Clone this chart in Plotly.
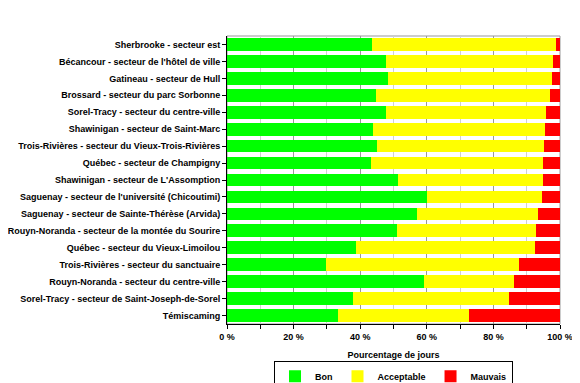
import plotly.graph_objects as go

stations = [
    "Sherbrooke - secteur est",
    "Bécancour - secteur de l'hôtel de ville",
    "Gatineau - secteur de Hull",
    "Brossard - secteur du parc Sorbonne",
    "Sorel-Tracy - secteur du centre-ville",
    "Shawinigan - secteur de Saint-Marc",
    "Trois-Rivières - secteur du Vieux-Trois-Rivières",
    "Québec - secteur de Champigny",
    "Shawinigan - secteur de L'Assomption",
    "Saguenay - secteur de l'université (Chicoutimi)",
    "Saguenay - secteur de Sainte-Thérèse (Arvida)",
    "Rouyn-Noranda - secteur de la montée du Sourire",
    "Québec - secteur du Vieux-Limoilou",
    "Trois-Rivières - secteur du sanctuaire",
    "Rouyn-Noranda - secteur du centre-ville",
    "Sorel-Tracy - secteur de Saint-Joseph-de-Sorel",
    "Témiscaming",
]
bon = [43.5, 47.6, 48.3, 44.7, 47.8, 43.8, 45.1, 43.3, 51.2, 60.2, 57.0, 50.9, 38.6, 29.6, 59.3, 37.9, 33.2]
acceptable = [55.4, 50.3, 49.3, 52.2, 48.1, 51.6, 50.2, 51.7, 43.8, 34.5, 36.4, 41.8, 54.0, 58.1, 26.8, 46.9, 39.6]
mauvais = [round(100 - b - a, 1) for b, a in zip(bon, acceptable)]
tick_vals = [0, 20, 40, 60, 80, 100]
tick_text = ["0 %", "20 %", "40 %", "60 %", "80 %", "100 %"]

series = [("Bon", bon, "#00FF00"), ("Acceptable", acceptable, "#FFFF00"), ("Mauvais", mauvais, "#FF0000")]

fig = go.Figure()
for name, vals, color in series:
    fig.add_trace(go.Bar(
        y=stations, x=vals, name=name, orientation="h",
        marker=dict(color=color, line=dict(width=0)),
    ))

font = dict(family="Liberation Sans, Arial, sans-serif", size=9, color="black", weight="bold")

fig.update_layout(
    barmode="stack",
    bargap=0.25,
    width=572, height=375,
    margin=dict(l=219, r=20, t=28, b=59, autoexpand=False),
    paper_bgcolor="white",
    plot_bgcolor="white",
    font=font,
    showlegend=True,
    legend=dict(
        orientation="h", x=0.5, xanchor="center", y=-0.128, yanchor="top",
        bordercolor="black", borderwidth=1, font=font, traceorder="normal",
        itemwidth=30, tracegroupgap=0,
    ),
    xaxis=dict(
        range=[0, 100], tickvals=tick_vals, ticktext=tick_text, tickmode="array",
        showgrid=True, gridcolor="#999999", gridwidth=1,
        minor=dict(dtick=10, showgrid=True, gridcolor="#d0d0d0", ticks="outside", ticklen=4, tickcolor="black"),
        ticks="outside", ticklen=4, tickcolor="black",
        showline=True, linecolor="black", linewidth=1, mirror=False,
        title=dict(text="Pourcentage de jours", font=font, standoff=10),
        tickfont=font, zeroline=False, automargin=False,
    ),
    yaxis=dict(
        autorange="reversed", ticks="outside", ticklen=4, tickcolor="black",
        showline=True, linecolor="black", linewidth=1,
        tickfont=font, showgrid=False, automargin=False,
    ),
)
fig.add_shape(type="rect", xref="paper", yref="paper", x0=0, x1=1, y0=0, y1=1,
              line=dict(color="#999999", width=1), layer="below")

fig.write_html("out.html")
